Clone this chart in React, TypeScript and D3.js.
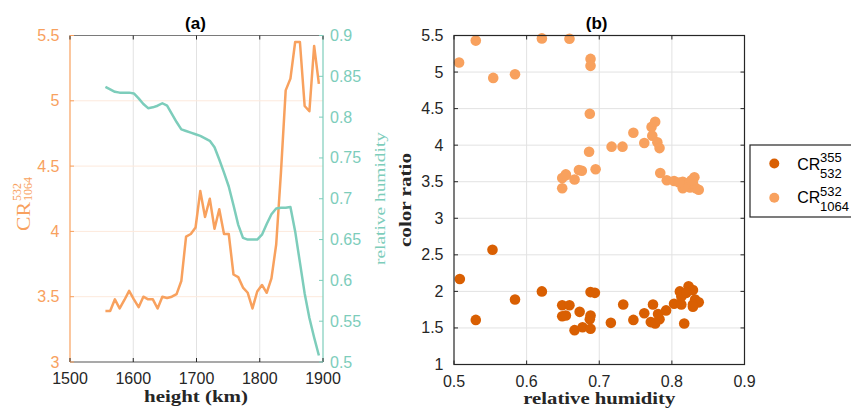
import React from "react";
import * as d3 from "d3";

// ---------- Panel (a) data ----------
const heights = [
  1556, 1563.5, 1571, 1578.5, 1586, 1593.5, 1601, 1608.5, 1616, 1623.5,
  1631, 1638.5, 1646, 1653.5, 1661, 1668.5, 1676, 1683.5, 1691, 1698.5,
  1706, 1713.5, 1721, 1728.5, 1736, 1743.5, 1751, 1758.5, 1766, 1773.5,
  1781, 1788.5, 1796, 1803.5, 1811, 1818.5, 1826, 1833.5, 1841, 1848.5,
  1856, 1863.5, 1871, 1878.5, 1886, 1893.5,
];
const cr1064Profile = [
  3.39, 3.39, 3.48, 3.41, 3.475, 3.545, 3.48, 3.42, 3.5, 3.48,
  3.48, 3.41, 3.5, 3.49, 3.5, 3.52, 3.62, 3.96, 3.98, 4.03,
  4.31, 4.11, 4.25, 4.02, 4.17, 3.98, 3.98, 3.67, 3.65, 3.57,
  3.53, 3.41, 3.54, 3.59, 3.53, 3.64, 3.9, 4.45, 5.08, 5.17,
  5.45, 5.45, 4.96, 4.92, 5.42, 5.13,
];
const rhProfile = [
  0.837, 0.834, 0.831, 0.83, 0.83, 0.83, 0.829, 0.823, 0.816, 0.811,
  0.812, 0.814, 0.817, 0.814, 0.804, 0.794, 0.785, 0.783, 0.781, 0.779,
  0.777, 0.774, 0.771, 0.763, 0.748, 0.732, 0.715, 0.692, 0.668, 0.652,
  0.65, 0.65, 0.65, 0.656, 0.669, 0.681, 0.688, 0.689, 0.689, 0.69,
  0.66, 0.622, 0.584, 0.554, 0.53, 0.508,
];
const heightTicks = [1500, 1600, 1700, 1800, 1900];
const crTicksA = [3, 3.5, 4, 4.5, 5, 5.5];
const rhTicksA = [0.5, 0.55, 0.6, 0.65, 0.7, 0.75, 0.8, 0.85, 0.9];

// ---------- Panel (b) data ----------
const rhB1064 = [
  0.507, 0.53, 0.554, 0.584, 0.621, 0.659, 0.688, 0.688, 0.687, 0.686,
  0.695, 0.676, 0.672, 0.666, 0.654, 0.649, 0.649, 0.654, 0.717, 0.732,
  0.747, 0.762, 0.772, 0.777, 0.773, 0.78, 0.783, 0.784, 0.793, 0.803,
  0.815, 0.831, 0.815, 0.825, 0.833, 0.837, 0.821, 0.829, 0.818, 0.81,
  0.827,
];
const crB1064 = [
  5.13, 5.43, 4.92, 4.97, 5.46, 5.455, 5.18, 5.085, 4.43, 3.91,
  3.67, 3.65, 3.66, 3.53, 3.59, 3.55, 3.41, 3.6, 3.98, 3.98,
  4.17, 4.03, 4.25, 4.32, 4.13, 4.04, 3.96, 3.62, 3.52, 3.51,
  3.5, 3.56, 3.41, 3.42, 3.41, 3.39, 3.48, 3.48, 3.45, 3.49,
  3.52,
];
const rhB355 = [
  0.508, 0.553, 0.53, 0.584, 0.621, 0.649, 0.659, 0.649, 0.654, 0.673,
  0.688, 0.687, 0.666, 0.677, 0.688, 0.688, 0.694, 0.716, 0.733, 0.747,
  0.762, 0.774, 0.771, 0.777, 0.783, 0.781, 0.792, 0.803, 0.813, 0.811,
  0.817, 0.823, 0.829, 0.813, 0.832, 0.837, 0.829, 0.829, 0.82,
];
const crB355 = [
  2.17, 2.57, 1.61, 1.89, 2.0, 1.81, 1.81, 1.66, 1.67, 1.72,
  1.67, 1.62, 1.47, 1.51, 1.49, 1.99, 1.98, 1.57, 1.82, 1.61,
  1.7, 1.82, 1.58, 1.56, 1.62, 1.69, 1.74, 1.83, 1.82, 2.0,
  1.56, 2.07, 2.02, 1.93, 1.89, 1.85, 1.82, 1.79, 1.98,
];
const rhTicksB = [0.5, 0.6, 0.7, 0.8, 0.9];
const crTicksB = [1, 1.5, 2, 2.5, 3, 3.5, 4, 4.5, 5, 5.5];

// ---------- styling ----------
const ORANGE = "#f8a15e";
const TEAL = "#7dcdbb";
const DARK_ORANGE = "#d95f02";
const AXIS = "#262626";
const GRID = "#e2e2e2";
const GRID_OR = "#fde9dc";
const SANS = "'Liberation Sans', Arial, Helvetica, sans-serif";
const SERIF = "'Liberation Serif', 'Times New Roman', serif";

export default function App() {
  // Panel (a) scales
  const xA = d3.scaleLinear().domain([1500, 1900]).range([70, 323]);
  const yAL = d3.scaleLinear().domain([3, 5.5]).range([362, 35.5]);
  const yAR = d3.scaleLinear().domain([0.5, 0.9]).range([362, 35.5]);
  // Panel (b) scales
  const xB = d3.scaleLinear().domain([0.5, 0.9]).range([454, 744.5]);
  const yB = d3.scaleLinear().domain([1, 5.5]).range([364.5, 35.5]);

  const crLine = d3
    .line<number>()
    .x((_, i) => xA(heights[i]))
    .y((d) => yAL(d));
  const rhLine = d3
    .line<number>()
    .x((_, i) => xA(heights[i]))
    .y((d) => yAR(d));

  const [ax0, ax1] = xA.range();
  const [ayB, ayT] = yAL.range();
  const [bx0, bx1] = xB.range();
  const [byB, byT] = yB.range();
  const TL = 4;

  return (
    <svg
      width={851}
      height={410}
      style={{ position: "absolute", left: 0, top: 0, background: "#fff" }}
    >
      <rect x={0} y={0} width={851} height={410} fill="#fff" />

      {/* ================= Panel (a) ================= */}
      {heightTicks.slice(1, -1).map((t) => (
        <line key={"ga" + t} x1={xA(t)} x2={xA(t)} y1={ayT} y2={ayB} stroke={GRID} strokeWidth={1} />
      ))}
      {crTicksA.slice(1, -1).map((t) => (
        <line key={"gal" + t} x1={ax0} x2={ax1} y1={yAL(t)} y2={yAL(t)} stroke={GRID_OR} strokeWidth={1} />
      ))}
      <path d={crLine(cr1064Profile) || ""} fill="none" stroke={ORANGE} strokeWidth={2.5} strokeLinejoin="round" />
      <path d={rhLine(rhProfile) || ""} fill="none" stroke={TEAL} strokeWidth={2.5} strokeLinejoin="round" />

      <line x1={ax0} x2={ax1} y1={ayT} y2={ayT} stroke="#7a7a7a" strokeWidth={1.2} />
      <line x1={ax0} x2={ax1} y1={ayB} y2={ayB} stroke="#555" strokeWidth={1.2} />
      <line x1={ax0} x2={ax0} y1={ayT} y2={ayB} stroke={ORANGE} strokeWidth={1.2} />
      <line x1={ax1} x2={ax1} y1={ayT} y2={ayB} stroke={TEAL} strokeWidth={1.2} />
      {heightTicks.map((t) => (
        <g key={"xta" + t}>
          <line x1={xA(t)} x2={xA(t)} y1={ayB} y2={ayB - TL} stroke={AXIS} />
          <line x1={xA(t)} x2={xA(t)} y1={ayT} y2={ayT + TL} stroke={AXIS} />
          <text x={xA(t)} y={384} textAnchor="middle" fontFamily={SANS} fontSize={16} fill={AXIS}>
            {t}
          </text>
        </g>
      ))}
      {crTicksA.map((t) => (
        <g key={"yla" + t}>
          <line x1={ax0} x2={ax0 + TL} y1={yAL(t)} y2={yAL(t)} stroke={ORANGE} />
          <text x={59.5} y={yAL(t) + 5.5} textAnchor="end" fontFamily={SANS} fontSize={16} fill={ORANGE}>
            {t}
          </text>
        </g>
      ))}
      {rhTicksA.map((t) => (
        <g key={"yra" + t}>
          <line x1={ax1} x2={ax1 - TL} y1={yAR(t)} y2={yAR(t)} stroke={TEAL} />
          <text x={330} y={yAR(t) + 5.5} textAnchor="start" fontFamily={SANS} fontSize={16} fill={TEAL}>
            {t}
          </text>
        </g>
      ))}
      <text x={195.5} y={28.5} textAnchor="middle" fontFamily={SANS} fontWeight="bold" fontSize={17} fill="#000">
        (a)
      </text>
      <text
        x={196}
        y={401.5}
        textAnchor="middle"
        fontFamily={SERIF}
        fontWeight="bold"
        fontSize={17}
        fill={AXIS}
        textLength={104}
        lengthAdjust="spacingAndGlyphs"
      >
        height (km)
      </text>
      <g transform="translate(30, 231) rotate(-90)">
        <text x={0} y={0} fontFamily={SERIF} fontSize={19} fill={ORANGE} textLength={29} lengthAdjust="spacingAndGlyphs">
          CR
        </text>
        <text x={30} y={-9.5} fontFamily={SERIF} fontSize={12} fill={ORANGE}>
          532
        </text>
        <text x={30} y={2} fontFamily={SERIF} fontSize={12} fill={ORANGE}>
          1064
        </text>
      </g>
      <text
        transform="translate(385, 198.5) rotate(-90)"
        textAnchor="middle"
        fontFamily={SERIF}
        fontSize={15}
        fill={TEAL}
        textLength={133}
        lengthAdjust="spacingAndGlyphs"
      >
        relative humidity
      </text>

      {/* ================= Panel (b) ================= */}
      {rhTicksB.slice(1, -1).map((t) => (
        <line key={"gbx" + t} x1={xB(t)} x2={xB(t)} y1={byT} y2={byB} stroke={GRID} strokeWidth={1} />
      ))}
      {crTicksB.slice(1, -1).map((t) => (
        <line key={"gby" + t} x1={bx0} x2={bx1} y1={yB(t)} y2={yB(t)} stroke={GRID} strokeWidth={1} />
      ))}
      {rhB355.map((r, i) => (
        <circle key={"p355" + i} cx={xB(r)} cy={yB(crB355[i])} r={5.3} fill={DARK_ORANGE} />
      ))}
      {rhB1064.map((r, i) => (
        <circle key={"p1064" + i} cx={xB(r)} cy={yB(crB1064[i])} r={5.3} fill={ORANGE} />
      ))}
      <rect x={bx0} y={byT} width={bx1 - bx0} height={byB - byT} fill="none" stroke={AXIS} strokeWidth={1.2} />
      {rhTicksB.map((t) => (
        <g key={"xtb" + t}>
          <line x1={xB(t)} x2={xB(t)} y1={byB} y2={byB - TL} stroke={AXIS} />
          <line x1={xB(t)} x2={xB(t)} y1={byT} y2={byT + TL} stroke={AXIS} />
          <text x={xB(t)} y={386.5} textAnchor="middle" fontFamily={SANS} fontSize={16} fill={AXIS}>
            {t}
          </text>
        </g>
      ))}
      {crTicksB.map((t) => (
        <g key={"ytb" + t}>
          <line x1={bx0} x2={bx0 + TL} y1={yB(t)} y2={yB(t)} stroke={AXIS} />
          <line x1={bx1} x2={bx1 - TL} y1={yB(t)} y2={yB(t)} stroke={AXIS} />
          <text x={443.5} y={yB(t) + 5.5} textAnchor="end" fontFamily={SANS} fontSize={16} fill={AXIS}>
            {t}
          </text>
        </g>
      ))}
      <text x={596.7} y={28.5} textAnchor="middle" fontFamily={SANS} fontWeight="bold" fontSize={17} fill="#000">
        (b)
      </text>
      <text
        x={599.3}
        y={404.3}
        textAnchor="middle"
        fontFamily={SERIF}
        fontWeight="bold"
        fontSize={17}
        fill={AXIS}
        textLength={152}
        lengthAdjust="spacingAndGlyphs"
      >
        relative humidity
      </text>
      <text
        transform="translate(411, 200) rotate(-90)"
        textAnchor="middle"
        fontFamily={SERIF}
        fontWeight="bold"
        fontSize={17}
        fill={AXIS}
        textLength={94}
        lengthAdjust="spacingAndGlyphs"
      >
        color ratio
      </text>

      {/* legend */}
      <rect x={750} y={145} width={110} height={72} fill="#fff" stroke={AXIS} strokeWidth={1.2} />
      <circle cx={774.3} cy={163.5} r={5} fill={DARK_ORANGE} />
      <circle cx={774.3} cy={197.7} r={5} fill={ORANGE} />
      <text x={797.3} y={170} fontFamily={SANS} fontSize={16} fill="#000">CR</text>
      <text x={820} y={162.3} fontFamily={SANS} fontSize={13} fill="#000">355</text>
      <text x={820} y={177.7} fontFamily={SANS} fontSize={13} fill="#000">532</text>
      <text x={797.3} y={203.3} fontFamily={SANS} fontSize={16} fill="#000">CR</text>
      <text x={820} y={196} fontFamily={SANS} fontSize={13} fill="#000">532</text>
      <text x={820} y={211} fontFamily={SANS} fontSize={13} fill="#000">1064</text>
    </svg>
  );
}
